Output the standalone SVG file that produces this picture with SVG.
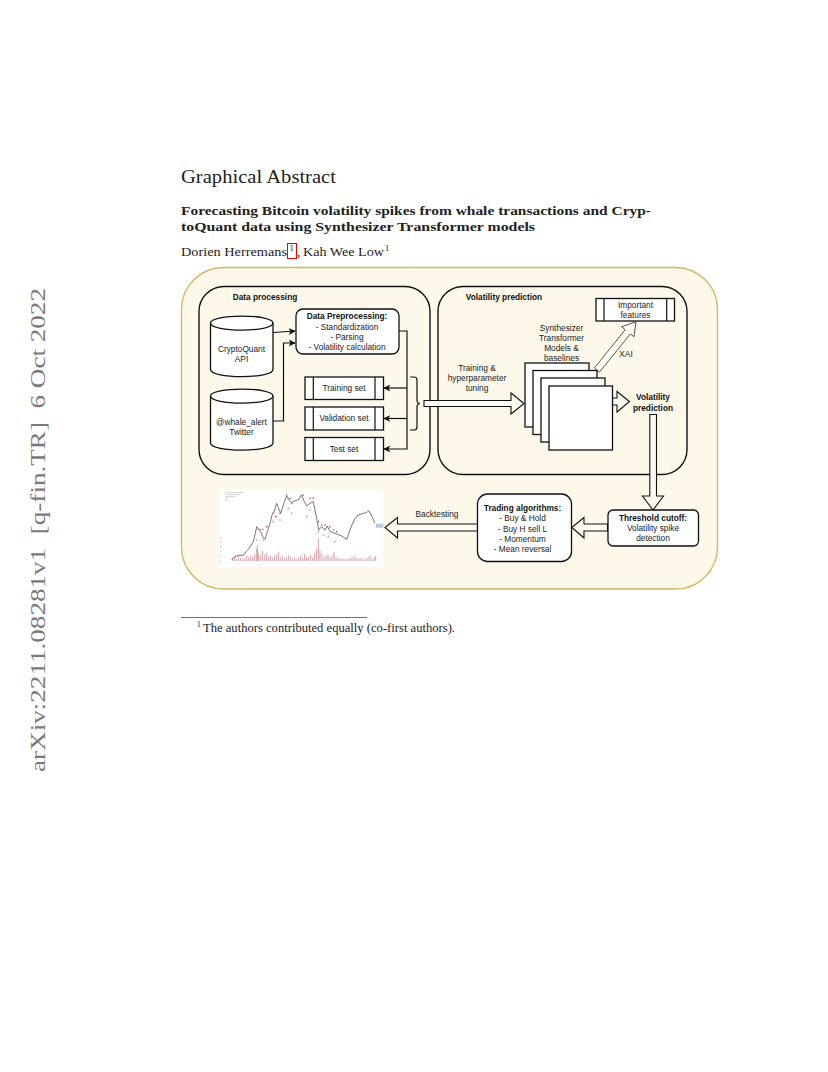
<svg xmlns="http://www.w3.org/2000/svg" width="828" height="1072" viewBox="0 0 828 1072">
<defs>
<marker id="ah" viewBox="0 0 10 10" refX="9" refY="5" markerWidth="7" markerHeight="7" markerUnits="userSpaceOnUse" orient="auto"><path d="M0 0L10 5L0 10L2.500 5Z" fill="#111"/></marker>
</defs>
<style>
.s{font-family:"Liberation Serif",serif;fill:#222}
.l{font-family:"Liberation Sans",Arial,sans-serif;font-size:8.300px;fill:#222;text-anchor:middle}
.b{font-weight:bold;fill:#111}
.n{fill:#fff;stroke:#111;stroke-width:1.300}
.g{fill:none;stroke:#111;stroke-width:1.400}
.w{fill:#fefbf3;stroke:#111;stroke-width:1.100}
.c{fill:none;stroke:#111;stroke-width:1.200}
</style>
<rect width="828" height="1072" fill="#fff"/>
<text class="s" transform="translate(45 772) rotate(-90)" font-size="21" textLength="484" lengthAdjust="spacingAndGlyphs" xml:space="preserve" style="fill:#7a7a7a">arXiv:2211.08281v1  [q-fin.TR]  6 Oct 2022</text>
<text class="s" x="181" y="183" font-size="19" textLength="155" lengthAdjust="spacingAndGlyphs">Graphical Abstract</text>
<text class="s" x="181" y="215" font-size="13.500" font-weight="bold" textLength="470" lengthAdjust="spacingAndGlyphs">Forecasting Bitcoin volatility spikes from whale transactions and Cryp-</text>
<text class="s" x="181" y="231" font-size="13.500" font-weight="bold" textLength="354" lengthAdjust="spacingAndGlyphs">toQuant data using Synthesizer Transformer models</text>
<text class="s" x="181" y="256" font-size="13" textLength="106" lengthAdjust="spacingAndGlyphs">Dorien Herremans</text>
<text class="s" x="289.500" y="251" font-size="8.500">1</text>
<rect x="287.500" y="243.500" width="9" height="15" fill="none" stroke="#f00000" stroke-width="1.300" shape-rendering="crispEdges"/>
<text class="s" x="297" y="256" font-size="13">,</text>
<text class="s" x="303" y="256" font-size="13" textLength="81" lengthAdjust="spacingAndGlyphs">Kah Wee Low</text>
<text class="s" x="385" y="251" font-size="8.500">1</text>
<g id="background"><rect x="181.500" y="267.500" width="536" height="321.500" rx="42" fill="#fef8ea" stroke="#d5b763" stroke-width="1.400"/></g>
<g id="data-processing"><rect x="199" y="286.500" width="231" height="188" rx="25" class="g"/><text class="l b" x="265" y="300">Data processing</text></g>
<g id="volatility-panel"><rect x="438" y="286.500" width="249" height="188" rx="25" class="g"/><text class="l b" x="504" y="300">Volatility prediction</text></g>
<g id="connectors">
<path class="c" d="M273 332.500L295 331" marker-end="url(#ah)"/>
<path class="c" d="M273 421H283.500V343H295" marker-end="url(#ah)"/>
<path class="c" d="M399 331H407V449H384" marker-end="url(#ah)"/>
<path class="c" d="M407 388H384" marker-end="url(#ah)"/>
<path class="c" d="M407 418.500H384" marker-end="url(#ah)"/>
<path class="c" d="M410 377H414Q417 377 417 380V400Q417 403.500 420 403.500Q417 403.500 417 407V427Q417 430 414 430H410"/>
<path class="w" d="M424 400.500H511V393L524 403.500L511 414V406.500H424Z"/>
<path class="w" style="stroke:#444;stroke-width:.9" d="M594.400 368L625.200 329.700L621.600 326.800L636 321.700L634 336.800L630.400 333.900L599.600 372Z"/>
<path class="w" d="M612.500 398H617V391.500L629.500 401.500L617 412V405H612.500Z"/>
<path class="w" d="M649.800 414.500H656.500V496H663.500L653 510L642.500 496H649.800Z"/>
<path class="w" d="M607.500 524H584V517.500L571.800 527.500L584 538V531H607.500Z"/>
<path class="w" d="M477.500 524H397.500V517.500L385 527.500L397.500 538V531H477.500Z"/>
</g>
<g id="cryptoquant"><path class="n" d="M210.500 323C210.500 313.700 273 313.700 273 323V369.500C273 379 210.500 379 210.500 369.500Z"/><path class="c" d="M210.500 323C210.500 332.500 273 332.500 273 323"/><text class="l" x="241.500" y="352">CryptoQuant</text><text class="l" x="241.500" y="362">API</text></g>
<g id="whale-alert"><path class="n" d="M210.500 396C210.500 386.700 273 386.700 273 396V443C273 452.500 210.500 452.500 210.500 443Z"/><path class="c" d="M210.500 396C210.500 405.500 273 405.500 273 396"/><text class="l" x="241.500" y="425">@whale_alert</text><text class="l" x="241.500" y="435">Twitter</text></g>
<g id="preprocessing"><rect class="n" x="296" y="309" width="103" height="45" rx="7"/><text class="l b" x="347" y="319">Data Preprocessing:</text><text class="l" x="347" y="329.500">- Standardization</text><text class="l" x="347" y="340">- Parsing</text><text class="l" x="347" y="349.500">- Volatility calculation</text></g>
<g id="training-set"><rect class="n" x="305" y="377" width="78.500" height="22.500"/><path class="c" d="M313.300 377V399.500M375 377V399.500"/><text class="l" x="344" y="391">Training set</text></g>
<g id="validation-set"><rect class="n" x="305" y="407" width="78.500" height="23"/><path class="c" d="M313.300 407V430M375 407V430"/><text class="l" x="344" y="421">Validation set</text></g>
<g id="test-set"><rect class="n" x="305" y="437.500" width="78.500" height="23"/><path class="c" d="M313.300 437.500V460.500M375 437.500V460.500"/><text class="l" x="344" y="452">Test set</text></g>
<g id="training-label"><text class="l" x="477" y="371">Training &amp;</text><text class="l" x="477" y="381">hyperparameter</text><text class="l" x="477" y="391">tuning</text></g>
<g id="models"><rect class="n" x="525" y="363" width="64" height="64"/><rect class="n" x="533" y="370.500" width="64" height="64"/><rect class="n" x="541" y="378" width="64" height="64"/><rect class="n" x="549" y="386" width="63.500" height="64"/>
<text class="l" x="561.500" y="331">Synthesizer</text><text class="l" x="561.500" y="341">Transformer</text><text class="l" x="561.500" y="351">Models &amp;</text><text class="l" x="561.500" y="361">baselines</text></g>
<g id="features"><rect class="n" x="596" y="298.500" width="78.500" height="22.500"/><path class="c" d="M604 298.500V321M666.700 298.500V321"/><text class="l" x="635.500" y="307.500">Important</text><text class="l" x="635.500" y="318">features</text></g>
<text class="l" x="626" y="357">XAI</text>
<g id="volatility-output"><text class="l b" x="653" y="400">Volatility</text><text class="l b" x="653" y="410.500">prediction</text></g>
<g id="threshold"><rect class="n" x="608" y="510" width="90.500" height="36" rx="5"/><text class="l b" x="653" y="520.500">Threshold cutoff:</text><text class="l" x="653" y="530.500">Volatility spike</text><text class="l" x="653" y="541">detection</text></g>
<g id="trading"><rect class="n" x="477.500" y="494" width="94" height="67.500" rx="10"/><text class="l b" x="522.500" y="511">Trading algorithms:</text><text class="l" x="522.500" y="521">- Buy &amp; Hold</text><text class="l" x="522.500" y="531.500">- Buy H sell L</text><text class="l" x="522.500" y="541.500">- Momentum</text><text class="l" x="522.500" y="552">- Mean reversal</text></g>
<text class="l" x="437" y="517">Backtesting</text>
<g id="chart">
<rect x="220" y="489" width="163" height="78" fill="#fff"/>
<g transform="translate(210 480) scale(.3333)">
<path d="M68 243V235M74 243V232M80 243V236M86 243V230M92 243V234M98 243V238M104 243V236M110 243V228M116 243V232M122 243V226M128 243V230M134 243V222M140 243V205M143 243V195M146 243V222M152 243V226M158 243V212M164 243V225M170 243V218M176 243V230M182 243V228M188 243V232M194 243V226M200 243V222M206 243V215M212 243V232M218 243V228M224 243V235M230 243V232M236 243V226M242 243V232M248 243V236M254 243V234M260 243V238M266 243V233M272 243V226M278 243V234M284 243V222M290 243V232M296 243V230M302 243V226M308 243V232M314 243V218M320 243V205M325 243V175M330 243V210M336 243V222M342 243V232M348 243V226M354 243V222M360 243V232M366 243V228M372 243V215M378 243V230M384 243V234M390 243V236M396 243V235M402 243V237M408 243V238M414 243V236M420 243V232M426 243V234M432 243V226M438 243V232M444 243V235M450 243V236M456 243V234M462 243V238M468 243V236M474 243V232M480 243V226M486 243V236M492 243V232M497 243V228" fill="none" stroke="#cd929f" stroke-width="2.600"/>
<path d="M65 240L72 232 80 228 90 226 100 226 108 215 115 208 122 198 130 185 136 160 140 140 146 150 152 155 158 170 165 178 172 155 180 130 186 105 192 95 200 70 206 85 212 100 220 75 230 48 238 60 245 68 255 62 265 60 275 45 283 65 290 78 300 70 310 65 316 95 322 125 326 150 335 140 345 150 352 138 360 155 370 158 380 162 395 168 410 178 420 150 428 130 435 115 445 105 460 100 470 98 476 92 484 105 495 130" fill="none" stroke="#444" stroke-width="2.200"/>
<g fill="#dc5a68"><circle cx="150" cy="148" r="2.600"/><circle cx="158" cy="148" r="2.600"/><circle cx="170" cy="140" r="2.600"/><circle cx="190" cy="98" r="2.600"/><circle cx="198" cy="110" r="2.600"/><circle cx="210" cy="100" r="2.600"/><circle cx="230" cy="45" r="2.600"/><circle cx="240" cy="55" r="2.600"/><circle cx="245" cy="70" r="2.600"/><circle cx="280" cy="45" r="2.600"/><circle cx="300" cy="55" r="2.600"/><circle cx="310" cy="55" r="2.600"/><circle cx="325" cy="125" r="2.600"/><circle cx="335" cy="135" r="2.600"/><circle cx="345" cy="135" r="2.600"/><circle cx="360" cy="140" r="2.600"/><circle cx="370" cy="150" r="2.600"/><circle cx="380" cy="155" r="2.600"/></g>
<g fill="#74cd85"><circle cx="140" cy="180" r="2.600"/><circle cx="160" cy="180" r="2.600"/><circle cx="190" cy="125" r="2.600"/><circle cx="210" cy="120" r="2.600"/><circle cx="235" cy="85" r="2.600"/><circle cx="245" cy="100" r="2.600"/><circle cx="290" cy="110" r="2.600"/><circle cx="300" cy="90" r="2.600"/><circle cx="315" cy="95" r="2.600"/><circle cx="325" cy="155" r="2.600"/><circle cx="340" cy="165" r="2.600"/><circle cx="355" cy="170" r="2.600"/><circle cx="375" cy="185" r="2.600"/></g>
<rect x="498" y="131" width="22" height="12" fill="#b4ccd4"/>
<path d="M45 38H100M45 44H90M45 50H75M45 56H55M45 62H52" stroke="#b5b5b5" stroke-width="1.800" fill="none"/>
<path d="M30 172h6M30 186h6M30 200h6M30 215h6M30 229h6M30 244h6" stroke="#bbb" stroke-width="2" fill="none"/>
</g>
</g>
<path d="M181 617.500H367" stroke="#333" stroke-width="0.700"/>
<text class="s" x="197" y="627" font-size="7.500">1</text>
<text class="s" x="203" y="632" font-size="11.500" textLength="252" lengthAdjust="spacingAndGlyphs">The authors contributed equally (co-first authors).</text>
</svg>
